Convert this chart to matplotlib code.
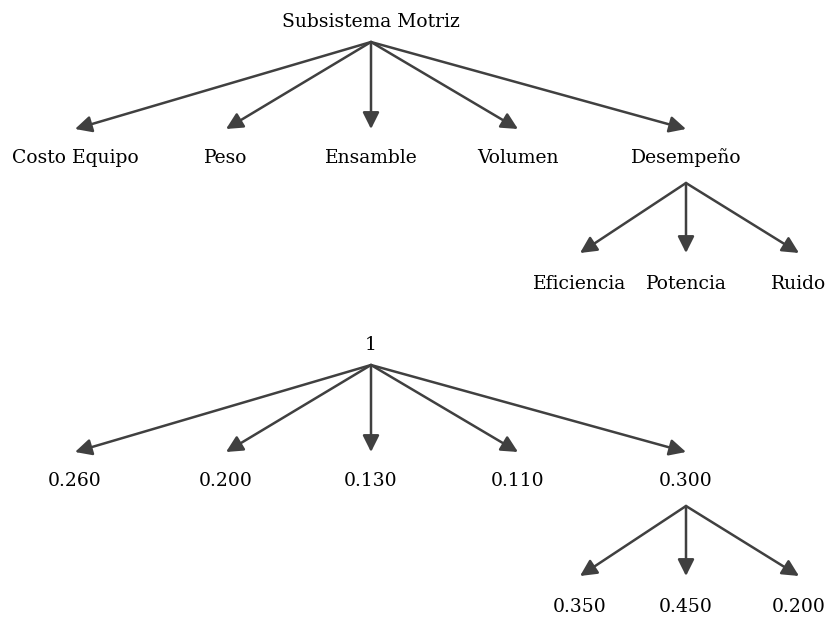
import matplotlib.pyplot as plt

# Nombres de los criterios
raiz = "Subsistema Motriz"
criterios = ["Costo Equipo", "Peso", "Ensamble", "Volumen", "Desempeño"]
subcriterios = ["Eficiencia", "Potencia", "Ruido"]

# Pesos
peso_raiz = "1"
pesos = ["0.260", "0.200", "0.130", "0.110", "0.300"]
pesos_sub = ["0.350", "0.450", "0.200"]

# Disposición (pixeles)
x_raiz = 371
x_hijos = [75, 226, 371, 518, 686]
x_sub = [580, 686, 799]
padre_sub = 4  # Desempeño

color = "#404040"
fuente = "DejaVu Serif"
tam = 13.5

fig = plt.figure(figsize=(8.30, 6.18), dpi=100)
ax = fig.add_axes([0, 0, 1, 1])
ax.set_xlim(0, 830)
ax.set_ylim(618, 0)
ax.axis("off")


def flecha(x0, y0, x1, y1):
    ax.annotate("", xy=(x1, y1), xytext=(x0, y0),
                arrowprops=dict(arrowstyle="-|>,head_length=0.5,head_width=0.25",
                                color=color, lw=1.8,
                                mutation_scale=20, shrinkA=0, shrinkB=0))


def arbol(y, texto_raiz, textos, textos_sub):
    # y: desplazamiento vertical del arbol
    ax.text(x_raiz, 27 + y, texto_raiz, ha="center", va="baseline",
            fontsize=tam, family=fuente)
    for xh, t in zip(x_hijos, textos):
        flecha(x_raiz, 42 + y, xh, 129 + y)
        ax.text(xh, 163 + y, t, ha="center", va="baseline",
                fontsize=tam, family=fuente)
    xp = x_hijos[padre_sub]
    for xs, t in zip(x_sub, textos_sub):
        flecha(xp, 183 + y, xs, 253 + y)
        ax.text(xs, 289 + y, t, ha="center", va="baseline",
                fontsize=tam, family=fuente)


arbol(0, raiz, criterios, subcriterios)
arbol(323, peso_raiz, pesos, pesos_sub)

plt.savefig("out.png", dpi=100)
